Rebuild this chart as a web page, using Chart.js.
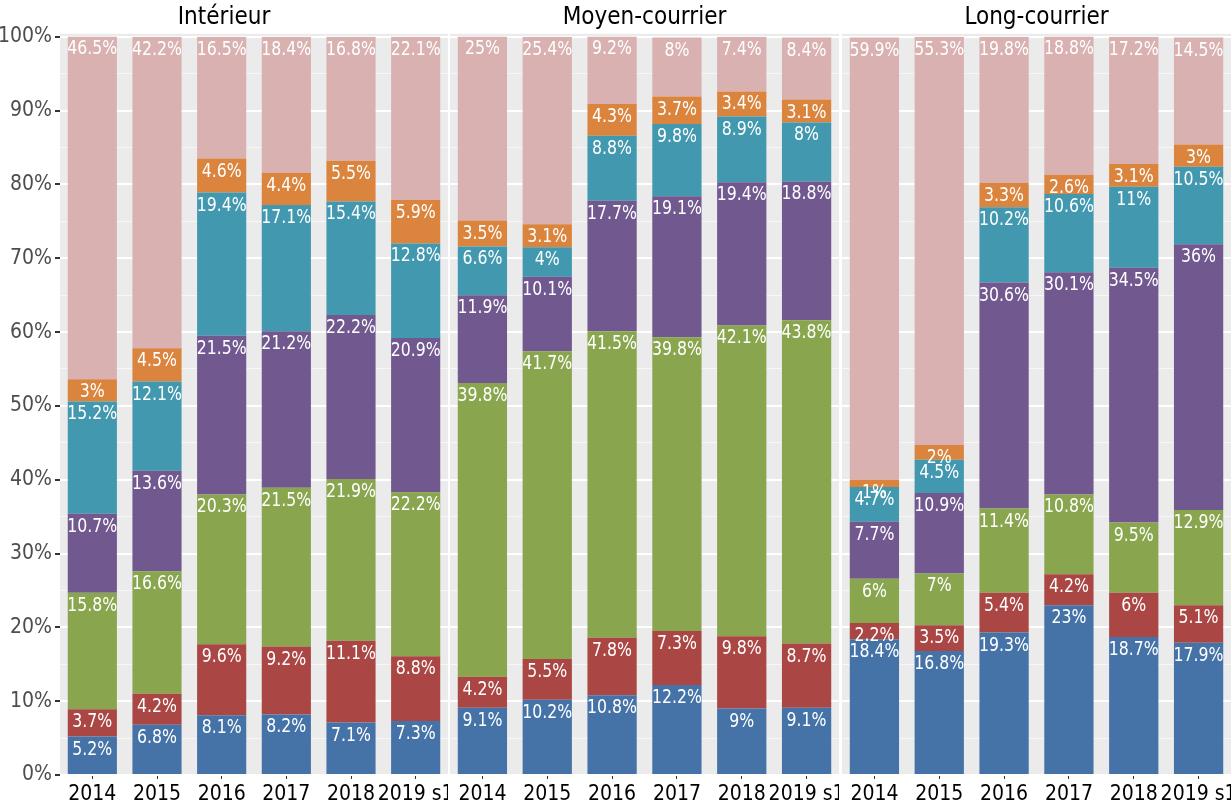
<!DOCTYPE html>
<html lang="fr">
<head>
    <meta charset="UTF-8">
    <title>Répartition par segment</title>
    <script src="https://cdn.jsdelivr.net/npm/chart.js@4.4.0/dist/chart.umd.min.js"></script>
    <style>
        body {
            margin: 0;
            background: #ffffff;
            width: 1231px;
            height: 808px;
            overflow: hidden;
            position: relative;
        }
        canvas {
            position: absolute;
            top: 0;
        }
    </style>
</head>
<body>
    <canvas id="c1" width="448" height="808" style="left:0px"></canvas>
    <canvas id="c2" width="389" height="808" style="left:450px"></canvas>
    <canvas id="c3" width="389" height="808" style="left:842px"></canvas>

    <script>
        const years = ['2014', '2015', '2016', '2017', '2018', '2019 s1'];
        const panels = ['Intérieur', 'Moyen-courrier', 'Long-courrier'];
        const colors = ['#4573A7', '#AA4744', '#89A54E', '#71588F', '#4198AF', '#DB843D', '#D9B1B1'];

        // une liste par segment (bas -> haut), 6 années par panneau
        const interieur = [
            [5.2, 6.8, 8.1, 8.2, 7.1, 7.3],
            [3.7, 4.2, 9.6, 9.2, 11.1, 8.8],
            [15.8, 16.6, 20.3, 21.5, 21.9, 22.2],
            [10.7, 13.6, 21.5, 21.2, 22.2, 20.9],
            [15.2, 12.1, 19.4, 17.1, 15.4, 12.8],
            [3, 4.5, 4.6, 4.4, 5.5, 5.9],
            [46.5, 42.2, 16.5, 18.4, 16.8, 22.1]
        ];
        const moyen = [
            [9.1, 10.2, 10.8, 12.2, 9, 9.1],
            [4.2, 5.5, 7.8, 7.3, 9.8, 8.7],
            [39.8, 41.7, 41.5, 39.8, 42.1, 43.8],
            [11.9, 10.1, 17.7, 19.1, 19.4, 18.8],
            [6.6, 4, 8.8, 9.8, 8.9, 8],
            [3.5, 3.1, 4.3, 3.7, 3.4, 3.1],
            [25, 25.4, 9.2, 8, 7.4, 8.4]
        ];
        const long = [
            [18.4, 16.8, 19.3, 23, 18.7, 17.9],
            [2.2, 3.5, 5.4, 4.2, 6, 5.1],
            [6, 7, 11.4, 10.8, 9.5, 12.9],
            [7.7, 10.9, 30.6, 30.1, 34.5, 36],
            [4.7, 4.5, 10.2, 10.6, 11, 10.5],
            [1, 2, 3.3, 2.6, 3.1, 3],
            [59.9, 55.3, 19.8, 18.8, 17.2, 14.5]
        ];

        const FONT = "'Liberation Sans Narrow', 'DejaVu Sans Condensed', 'Arial Narrow', sans-serif";

        const panelBg = {
            id: 'panelBg',
            beforeDraw(chart) {
                const a = chart.chartArea;
                const ctx = chart.ctx;
                ctx.save();
                ctx.fillStyle = '#EBEBEB';
                ctx.fillRect(a.left, a.top - 3, a.right - a.left, a.bottom - a.top + 3);
                ctx.restore();
            }
        };

        // étiquettes en haut de chaque segment, un peu étirées en hauteur comme l'original
        const segLabels = {
            id: 'segLabels',
            afterDatasetsDraw(chart) {
                const ctx = chart.ctx;
                chart.data.datasets.forEach((ds, i) => {
                    chart.getDatasetMeta(i).data.forEach((bar, j) => {
                        ctx.save();
                        ctx.translate(bar.x, bar.y + 18);
                        ctx.scale(1, 1.15);
                        ctx.font = '17.5px ' + FONT;
                        ctx.fillStyle = '#ffffff';
                        ctx.textAlign = 'center';
                        ctx.textBaseline = 'alphabetic';
                        ctx.fillText(ds.data[j] + '%', 0, 0);
                        ctx.restore();
                    });
                });
            }
        };

        function makeChart(id, title, series, withAxis) {
            const ctx = document.getElementById(id).getContext('2d');
            return new Chart(ctx, {
                type: 'bar',
                data: {
                    labels: years,
                    datasets: series.map((d, i) => ({
                        data: d,
                        backgroundColor: colors[i],
                        borderWidth: 0,
                        barPercentage: 0.76,
                        categoryPercentage: 1
                    }))
                },
                options: {
                    responsive: false,
                    animation: false,
                    layout: { padding: 0 },
                    plugins: {
                        legend: { display: false },
                        tooltip: { enabled: false },
                        title: {
                            display: true,
                            text: title,
                            color: '#000000',
                            font: { family: FONT, size: 24, weight: 'normal', lineHeight: 1.2 },
                            padding: { top: 3, bottom: 5 }
                        }
                    },
                    scales: {
                        x: {
                            stacked: true,
                            offset: true,
                            border: { display: false },
                            grid: {
                                offset: false,
                                drawOnChartArea: false,
                                color: 'transparent',
                                tickColor: '#333333',
                                tickLength: 4
                            },
                            ticks: {
                                color: '#000000',
                                padding: 3,
                                maxRotation: 0,
                                autoSkip: false,
                                font: { family: FONT, size: 21 }
                            },
                            afterFit(s) {
                                s.height = 33;
                                s.paddingLeft = 0;
                                s.paddingRight = 0;
                            }
                        },
                        y: {
                            stacked: true,
                            min: 0,
                            max: 100,
                            border: { display: false },
                            grid: {
                                color: ctx => ctx.tick && ctx.tick.value % 10 === 0 ? '#ffffff' : 'rgba(255,255,255,0.6)',
                                lineWidth: ctx => ctx.tick && ctx.tick.value % 10 === 0 ? 2 : 1,
                                tickColor: ctx => withAxis && ctx.tick && ctx.tick.value % 10 === 0 ? '#333333' : 'transparent',
                                tickLength: withAxis ? 5 : 0,
                                drawTicks: withAxis
                            },
                            ticks: {
                                display: withAxis,
                                stepSize: 5,
                                padding: 3,
                                color: '#4D4D4D',
                                font: { family: FONT, size: 21 },
                                callback: v => v % 10 === 0 ? v + '%' : ''
                            },
                            afterFit(s) {
                                s.width = withAxis ? 60 : 0;
                                s.paddingTop = 0;
                                s.paddingBottom = 0;
                            }
                        }
                    }
                },
                plugins: [panelBg, segLabels]
            });
        }

        makeChart('c1', panels[0], interieur, true);
        makeChart('c2', panels[1], moyen, false);
        makeChart('c3', panels[2], long, false);
    </script>
</body>
</html>
